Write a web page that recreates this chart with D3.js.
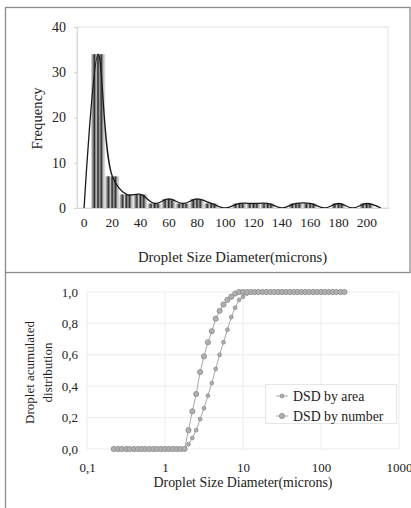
<!DOCTYPE html>
<html>
<head>
<meta charset="utf-8">
<script src="https://cdn.jsdelivr.net/npm/d3@7"></script>
<style>
  html, body { margin: 0; padding: 0; background: #fff; }
  svg text { font-family: "Liberation Serif", "DejaVu Serif", "Times New Roman", serif !important; }
</style>
</head>
<body>
<svg id="chart" width="411" height="508"></svg>
<script>
// ---------- Data: top histogram ----------
const binCategories = [0,10,20,30,40,50,60,70,80,90,100,110,120,130,140,150,160,170,180,190,200,210];
const binFrequency  = [0,34,7,3,3,1,2,1,2,1,0,1,1,1,0,1,1,0,1,0,1,0];
const topXTickLabels = ["0","20","40","60","80","100","120","140","160","180","200"];
const topYTicks = [0,10,20,30,40];

// ---------- Data: bottom cumulative distributions ----------
const diameters = [0.22,0.25,0.28,0.32,0.35,0.40,0.45,0.50,0.56,0.63,0.71,0.79,0.89,
  1.00,1.12,1.26,1.41,1.58,1.78,2.00,2.24,2.51,2.82,3.16,3.55,3.98,4.47,5.01,5.62,6.31,7.08,7.94,8.91,
  10.0,11.2,12.6,14.1,15.8,17.8,20.0,22.4,25.1,28.2,31.6,35.5,39.8,44.7,50.1,56.2,63.1,70.8,79.4,89.1,
  100,112,126,141,158,178,200];
const dsdByArea = [0,0,0,0,0,0,0,0,0,0,0,0,0,
  0,0,0,0,0,0,0.03,0.07,0.12,0.19,0.26,0.34,0.42,0.51,0.60,0.68,0.76,0.84,0.90,0.95,
  0.97,0.99,1,1,1,1,1,1,1,1,1,1,1,1,1,1,1,1,1,1,
  1,1,1,1,1,1,1];
const dsdByNumber = [0,0,0,0,0,0,0,0,0,0,0,0,0,
  0,0,0,0,0,0,0.12,0.24,0.35,0.49,0.59,0.68,0.75,0.83,0.88,0.92,0.95,0.97,0.99,1.0,
  1,1,1,1,1,1,1,1,1,1,1,1,1,1,1,1,1,1,1,1,
  1,1,1,1,1,1,1];
const botXTicks = [0.1,1,10,100,1000];
const botXTickLabels = ["0,1","1","10","100","1000"];
const botYTicks = [0,0.2,0.4,0.6,0.8,1.0];
const botYTickLabels = ["0,0","0,2","0,4","0,6","0,8","1,0"];
const legendLabels = ["DSD by area","DSD by number"];

const FONT = '"Liberation Serif", "DejaVu Serif", serif';
const svg = d3.select("#chart");

// ---------- Panel frames ----------
svg.append("rect").attr("x",5.5).attr("y",7.5).attr("width",404.5).attr("height",265)
  .attr("fill","none").attr("stroke","#8a8a8a").attr("stroke-width",1.3);
svg.append("line").attr("x1",5.5).attr("x2",5.5).attr("y1",272).attr("y2",508)
  .attr("stroke","#8a8a8a").attr("stroke-width",1.3);

// ---------- Top chart ----------
const T = {left:77, right:388, top:27, bottom:208};
const xBand = d3.scaleBand().domain(binCategories).range([T.left, T.right]).padding(0);
const yTop = d3.scaleLinear().domain([0,40]).range([T.bottom, T.top]);

const defs = svg.append("defs");
const grad = defs.append("linearGradient").attr("id","barGrad")
  .attr("x1","0").attr("x2","1").attr("y1","0").attr("y2","0");
[[0,"#d8d8d8"],[0.12,"#8a8a8a"],[0.24,"#2e2e2e"],[0.36,"#d0d0d0"],[0.48,"#222222"],
 [0.6,"#a0a0a0"],[0.72,"#333333"],[0.86,"#bdbdbd"],[1,"#e8e8e8"]]
  .forEach(([o,c]) => grad.append("stop").attr("offset",o).attr("stop-color",c));

svg.append("rect").attr("x",T.left).attr("y",T.top).attr("width",T.right-T.left).attr("height",T.bottom-T.top)
  .attr("fill","none").attr("stroke","#e2e2e2").attr("stroke-width",1);

svg.append("g").selectAll("rect").data(binCategories.map((c,i)=>({c, v:binFrequency[i]})))
  .join("rect")
  .attr("x", d => xBand(d.c))
  .attr("width", xBand.bandwidth())
  .attr("y", d => yTop(d.v))
  .attr("height", d => yTop(0) - yTop(d.v))
  .attr("fill","url(#barGrad)");

const lineTop = d3.line()
  .x((d,i) => xBand(binCategories[i]) + xBand.bandwidth()/2)
  .y(d => yTop(d))
  .curve(d3.curveCatmullRom.alpha(0.5));
svg.append("path").datum(binFrequency).attr("d", lineTop)
  .attr("fill","none").attr("stroke","#1a1a1a").attr("stroke-width",1.3);

const gyt = svg.append("g").attr("transform",`translate(${T.left},0)`)
  .call(d3.axisLeft(yTop).tickValues(topYTicks).tickSize(3).tickPadding(8));
gyt.select(".domain").attr("stroke","#d9d9d9");
gyt.selectAll(".tick line").attr("stroke","#d0d0d0");
gyt.selectAll("text").attr("font-size",14).attr("fill","#222").style("font-family",FONT);

const gxt = svg.append("g").attr("transform",`translate(0,${T.bottom})`)
  .call(d3.axisBottom(xBand)
    .tickValues(binCategories.filter((c,i)=>i%2===0))
    .tickFormat((d,i) => topXTickLabels[i]).tickSize(0).tickPadding(9));
gxt.select(".domain").attr("stroke","#d9d9d9");
gxt.selectAll("text").attr("font-size",13.5).attr("fill","#222").style("font-family",FONT);

svg.append("text").attr("x",(T.left+T.right)/2).attr("y",262).attr("text-anchor","middle")
  .attr("font-size",14.7).attr("fill","#222").style("font-family",FONT).text("Droplet Size Diameter(microns)");
svg.append("text").attr("transform",`translate(42,${(T.top+T.bottom)/2+1}) rotate(-90)`)
  .attr("text-anchor","middle").attr("font-size",14.7).attr("fill","#222").style("font-family",FONT).text("Frequency");

// ---------- Bottom chart ----------
const B = {left:87, right:399, top:292, bottom:449};
const xLog = d3.scaleLog().domain([0.1,1000]).range([B.left,B.right]);
const yBot = d3.scaleLinear().domain([0,1]).range([B.bottom,B.top]);

svg.append("g").selectAll("line").data(botYTicks).join("line")
  .attr("x1",B.left).attr("x2",B.right).attr("y1",d=>yBot(d)).attr("y2",d=>yBot(d))
  .attr("stroke","#ececec").attr("stroke-width",1);
svg.append("g").selectAll("line").data(botXTicks).join("line")
  .attr("y1",B.top).attr("y2",B.bottom).attr("x1",d=>xLog(d)).attr("x2",d=>xLog(d))
  .attr("stroke","#ececec").attr("stroke-width",1);

const gyb = svg.append("g").attr("transform",`translate(${B.left},0)`)
  .call(d3.axisLeft(yBot).tickValues(botYTicks).tickFormat((d,i)=>botYTickLabels[i]).tickSize(0).tickPadding(9));
gyb.select(".domain").remove();
gyb.selectAll("text").attr("font-size",13).attr("fill","#222").style("font-family",FONT);

const gxb = svg.append("g").attr("transform",`translate(0,${B.bottom})`)
  .call(d3.axisBottom(xLog).tickValues(botXTicks).tickFormat((d,i)=>botXTickLabels[i]).tickSize(0).tickPadding(14));
gxb.select(".domain").remove();
gxb.selectAll("text").attr("font-size",13).attr("fill","#222").style("font-family",FONT);

svg.append("text").attr("x",(B.left+B.right)/2).attr("y",487).attr("text-anchor","middle")
  .attr("font-size",13.9).attr("fill","#222").style("font-family",FONT).text("Droplet Size Diameter(microns)");
const yt = svg.append("text").attr("transform",`translate(0,${(B.top+B.bottom)/2+2}) rotate(-90)`)
  .attr("text-anchor","middle").attr("font-size",13).attr("fill","#222").style("font-family",FONT);
yt.append("tspan").attr("x",0).attr("y",34).text("Droplet acumulated");
yt.append("tspan").attr("x",0).attr("y",52).text("distribution");

const seriesList = [
  {name:legendLabels[0], values:dsdByArea, r:1.9},
  {name:legendLabels[1], values:dsdByNumber, r:2.6}
];
const lineBot = d3.line().x((d,i)=>xLog(diameters[i])).y(d=>yBot(d));
seriesList.forEach(s => {
  svg.append("path").datum(s.values).attr("d",lineBot)
    .attr("fill","none").attr("stroke","#a8a8a8").attr("stroke-width",1);
  svg.append("g").selectAll("circle").data(s.values).join("circle")
    .attr("cx",(d,i)=>xLog(diameters[i])).attr("cy",d=>yBot(d)).attr("r",s.r)
    .attr("fill","#b0b0b0").attr("stroke","#8c8c8c").attr("stroke-width",0.8);
});

const lg = svg.append("g");
lg.append("rect").attr("x",265.5).attr("y",384.5).attr("width",131).attr("height",39)
  .attr("fill","#fff").attr("stroke","#e6e6e6");
seriesList.forEach((s,i) => {
  const y = 396 + i*20;
  lg.append("line").attr("x1",276).attr("x2",288).attr("y1",y).attr("y2",y)
    .attr("stroke","#a8a8a8").attr("stroke-width",1);
  lg.append("circle").attr("cx",282).attr("cy",y).attr("r",s.r)
    .attr("fill","#b0b0b0").attr("stroke","#8c8c8c").attr("stroke-width",0.8);
  lg.append("text").attr("x",293).attr("y",y+4.5).attr("font-size",13.8).attr("fill","#222")
    .style("font-family",FONT).text(s.name);
});
</script>
</body>
</html>
